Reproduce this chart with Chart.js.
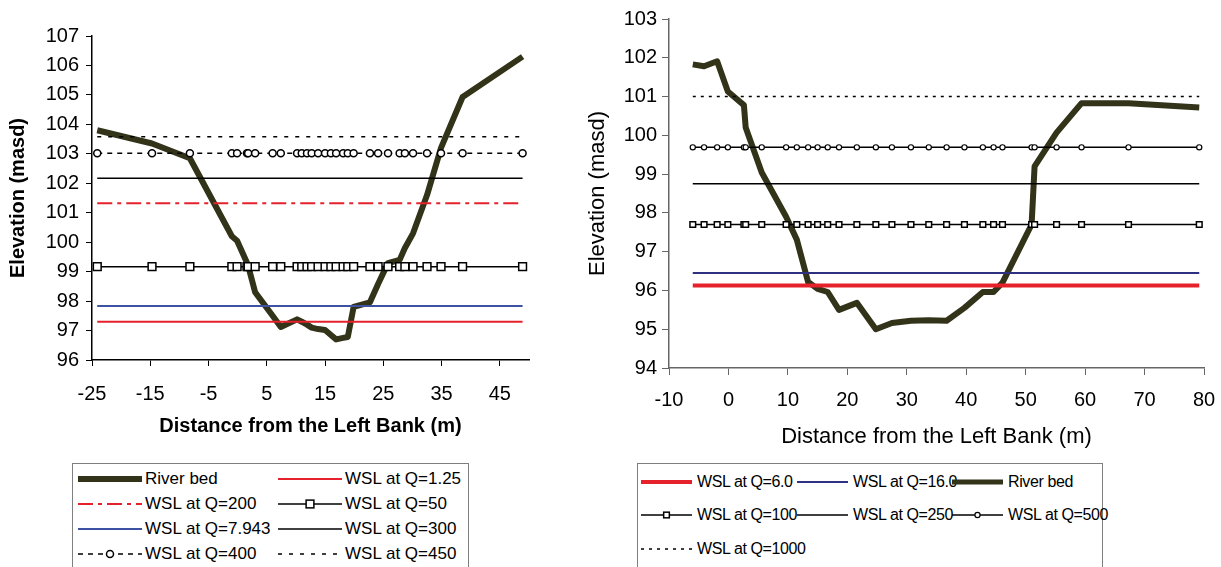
<!DOCTYPE html>
<html>
<head>
<meta charset="utf-8">
<script src="https://cdn.jsdelivr.net/npm/chart.js@4.4.1/dist/chart.umd.min.js"></script>
<style>
  body { margin: 0; background: #fff; width: 1221px; height: 567px; overflow: hidden; position: relative;
         font-family: "Liberation Sans", Arial, sans-serif; }
  canvas { position: absolute; top: 0; }
  #chartL { left: 0; }
  #chartR { left: 585px; }
  .legend { position: absolute; top: 463px; height: 130px; box-sizing: border-box; border: 1px solid #7f7f7f; }
  #legendL { left: 72px; width: 397px; font-size: 17px; }
  #legendR { left: 637px; width: 466px; font-size: 16px; letter-spacing: -0.4px; }
  .item { position: absolute; height: 24px; display: flex; align-items: center; white-space: nowrap; color: #000; }
  .item svg { display: block; }
</style>
</head>
<body>
<canvas id="chartL" width="600" height="445"></canvas>
<canvas id="chartR" width="650" height="455"></canvas>
<div class="legend" id="legendL"></div>
<div class="legend" id="legendR"></div>
<script>
const family = '"Liberation Sans", Arial, sans-serif';

// 左の横断面（測点と河床標高）
const stationsL = [-24.1, -14.7, -8.2, -1.0, -0.1, 1.6, 1.8, 3.0, 6.0, 7.4, 10.2, 11.0, 11.9, 12.7, 13.8, 15.0,
  16.0, 16.9, 18.1, 18.9, 19.9, 22.7, 24.1, 25.8, 27.8, 28.7, 30.1, 32.5, 34.9, 38.6, 48.9];
const bedL = [103.8, 103.35, 102.85, 100.2, 100.05, 99.3, 99.2, 98.3, 97.5, 97.12, 97.38, 97.3, 97.2, 97.1, 97.05, 97.02,
  96.85, 96.7, 96.75, 96.78, 97.8, 97.96, 98.58, 99.29, 99.4, 99.8, 100.3, 101.6, 103.2, 104.93, 106.3];
const wslLabelsL = ['WSL at Q=1.25', 'WSL at Q=200', 'WSL at Q=50', 'WSL at Q=7.943', 'WSL at Q=300', 'WSL at Q=400', 'WSL at Q=450'];
const wslLevelsL = [97.3, 101.32, 99.17, 97.83, 102.17, 103.02, 103.58];
const xTicksL = [-25, -15, -5, 5, 15, 25, 35, 45];
const yTicksL = [96, 97, 98, 99, 100, 101, 102, 103, 104, 105, 106, 107];

// 右の横断面
const stationsR = [-6.0, -4.1, -1.9, -0.1, 2.6, 2.9, 5.6, 9.7, 11.5, 13.4, 15.0, 16.7, 18.6, 21.6, 24.8, 27.5,
  30.7, 33.7, 36.7, 39.7, 42.8, 44.6, 46.1, 51.0, 51.5, 55.2, 59.4, 67.3, 79.2];
const bedR = [101.83, 101.78, 101.91, 101.13, 100.78, 100.2, 99.04, 97.9, 97.31, 96.22, 96.04, 95.96, 95.5, 95.68, 95.0, 95.16,
  95.22, 95.23, 95.22, 95.55, 95.96, 95.96, 96.2, 97.7, 99.2, 100.07, 100.83, 100.83, 100.72];
const wslLabelsR = ['WSL at Q=6.0', 'WSL at Q=16.0', 'WSL at Q=100', 'WSL at Q=250', 'WSL at Q=500', 'WSL at Q=1000'];
const wslLevelsR = [96.13, 96.45, 97.70, 98.75, 99.69, 101.0];
const xTicksR = [-10, 0, 10, 20, 30, 40, 50, 60, 70, 80];
const yTicksR = [94, 95, 96, 97, 98, 99, 100, 101, 102, 103];

const RED = '#e5222b';
const BED = '#333319';

function points(xs, ys) {
  return xs.map((x, i) => ({ x: x, y: Array.isArray(ys) ? ys[i] : ys }));
}

// 系列ごとの線のスタイル
function dataset(label, data, s) {
  return {
    label: label,
    data: data,
    borderColor: s.color,
    borderWidth: s.width,
    borderDash: s.dash || [],
    borderJoinStyle: 'round',
    pointStyle: s.point || 'circle',
    pointRadius: s.point ? s.radius : 0,
    pointHoverRadius: 0,
    pointBackgroundColor: '#fff',
    pointBorderColor: s.color,
    pointBorderWidth: s.pw || 1.5,
    order: s.order || 0,
    tension: 0,
    fill: false
  };
}

const bedStyleL = { color: BED, width: 6, order: 5 };
const wslStylesL = [
  { color: RED, width: 2 },
  { color: RED, width: 2, dash: [15, 5, 4, 5] },
  { color: '#000', width: 1.5, point: 'rect', radius: 5.5 },
  { color: '#3d52a3', width: 2 },
  { color: '#000', width: 1.5 },
  { color: '#000', width: 1.5, dash: [5, 5], point: 'circle', radius: 3.5 },
  { color: '#000', width: 1.5, dash: [4, 7] }
];
const bedStyleR = { color: BED, width: 6, order: 5 };
const wslStylesR = [
  { color: RED, width: 4 },
  { color: '#2e3180', width: 1.8 },
  { color: '#000', width: 1.5, point: 'rect', radius: 4, pw: 1.5 },
  { color: '#000', width: 1.5 },
  { color: '#000', width: 1.5, point: 'circle', radius: 2.6, pw: 1.2 },
  { color: '#000', width: 1.5, dash: [3, 5] }
];

const datasetsL = [dataset('River bed', points(stationsL, bedL), bedStyleL)]
  .concat(wslLabelsL.map((l, i) => dataset(l, points(stationsL, wslLevelsL[i]), wslStylesL[i])));

const wslR = wslLabelsR.map((l, i) => dataset(l, points(stationsR, wslLevelsR[i]), wslStylesR[i]));
const datasetsR = [wslR[0], wslR[1], dataset('River bed', points(stationsR, bedR), bedStyleR), wslR[2], wslR[3], wslR[4], wslR[5]];

function axis(o) {
  return {
    type: 'linear',
    min: o.min,
    max: o.max,
    afterBuildTicks: (a) => { a.ticks = o.ticks.map(v => ({ value: v })); },
    afterFit: o.fit,
    grid: { drawOnChartArea: false, drawTicks: true, tickLength: o.tickLength, color: o.color, lineWidth: 1 },
    border: { display: true, color: o.color, width: 1.5 },
    ticks: { color: '#000', font: { size: 20, family: family }, padding: o.padding, maxRotation: 0, autoSkip: false },
    title: {
      display: true, text: o.title, color: '#000',
      font: { size: o.titleSize, weight: o.bold ? 'bold' : 'normal', family: family },
      padding: o.titlePadding
    }
  };
}

const chartL = new Chart(document.getElementById('chartL'), {
  type: 'line',
  data: { datasets: datasetsL },
  options: {
    responsive: false,
    animation: false,
    devicePixelRatio: 1,
    layout: { padding: { left: 0, top: 36, right: 71, bottom: 0 } },
    plugins: { legend: { display: false }, tooltip: { enabled: false } },
    scales: {
      x: axis({ min: -25, max: 50, ticks: xTicksL, fit: (a) => { a.height = 85; }, tickLength: 6, color: '#000',
        padding: 16, title: 'Distance from the Left Bank (m)', titleSize: 20, bold: true, titlePadding: { top: 0, bottom: 7 } }),
      y: axis({ min: 96, max: 107, ticks: yTicksL, fit: (a) => { a.width = 92; }, tickLength: 6, color: '#000',
        padding: 7, title: 'Elevation (masd)', titleSize: 20, bold: true, titlePadding: { top: 6, bottom: 0 } })
    }
  }
});

const chartR = new Chart(document.getElementById('chartR'), {
  type: 'line',
  data: { datasets: datasetsR },
  options: {
    responsive: false,
    animation: false,
    devicePixelRatio: 1,
    layout: { padding: { left: 0, top: 19, right: 31, bottom: 0 } },
    plugins: { legend: { display: false }, tooltip: { enabled: false } },
    scales: {
      x: axis({ min: -10, max: 80, ticks: xTicksR, fit: (a) => { a.height = 87; }, tickLength: 7, color: '#666',
        padding: 13, title: 'Distance from the Left Bank (m)', titleSize: 22, bold: false, titlePadding: { top: 0, bottom: 5 } }),
      y: axis({ min: 94, max: 103, ticks: yTicksR, fit: (a) => { a.width = 84; }, tickLength: 7, color: '#666',
        padding: 5, title: 'Elevation (masd)', titleSize: 22, bold: false, titlePadding: { top: 0, bottom: 0 } })
    }
  }
});

// HTML の凡例（線のサンプル + テキスト）
function buildLegend(el, chart, cfg) {
  const ns = 'http://www.w3.org/2000/svg';
  chart.data.datasets.forEach((d, i) => {
    const col = i % cfg.cols;
    const row = Math.floor(i / cfg.cols);
    const item = document.createElement('div');
    item.className = 'item';
    item.style.left = cfg.colX[col] + 'px';
    item.style.top = (cfg.rowY[row] - 12) + 'px';

    const svg = document.createElementNS(ns, 'svg');
    svg.setAttribute('width', cfg.sampleW);
    svg.setAttribute('height', 24);
    const line = document.createElementNS(ns, 'line');
    line.setAttribute('x1', 0); line.setAttribute('x2', cfg.sampleW);
    line.setAttribute('y1', 12); line.setAttribute('y2', 12);
    line.setAttribute('stroke', d.borderColor);
    line.setAttribute('stroke-width', d.label === 'River bed' ? cfg.bedW : d.borderWidth);
    if (d.borderDash.length) line.setAttribute('stroke-dasharray', d.borderDash.join(' '));
    svg.appendChild(line);
    if (d.pointRadius > 0) {
      let m;
      if (d.pointStyle === 'rect') {
        const s = d.pointRadius * Math.SQRT1_2;
        m = document.createElementNS(ns, 'rect');
        m.setAttribute('x', cfg.sampleW / 2 - s); m.setAttribute('y', 12 - s);
        m.setAttribute('width', 2 * s); m.setAttribute('height', 2 * s);
      } else {
        m = document.createElementNS(ns, 'circle');
        m.setAttribute('cx', cfg.sampleW / 2); m.setAttribute('cy', 12);
        m.setAttribute('r', d.pointRadius);
      }
      m.setAttribute('fill', '#fff');
      m.setAttribute('stroke', d.pointBorderColor);
      m.setAttribute('stroke-width', d.pointBorderWidth);
      svg.appendChild(m);
    }
    item.appendChild(svg);
    const txt = document.createElement('span');
    txt.textContent = d.label;
    txt.style.marginLeft = cfg.gap + 'px';
    item.appendChild(txt);
    el.appendChild(item);
  });
}

buildLegend(document.getElementById('legendL'), chartL,
  { cols: 2, colX: [5, 205], rowY: [15, 40, 65, 90], sampleW: 64, gap: 3, bedW: 6 });
buildLegend(document.getElementById('legendR'), chartR,
  { cols: 3, colX: [3, 159, 314], rowY: [18, 51, 85], sampleW: 51, gap: 5, bedW: 5 });
</script>
</body>
</html>
